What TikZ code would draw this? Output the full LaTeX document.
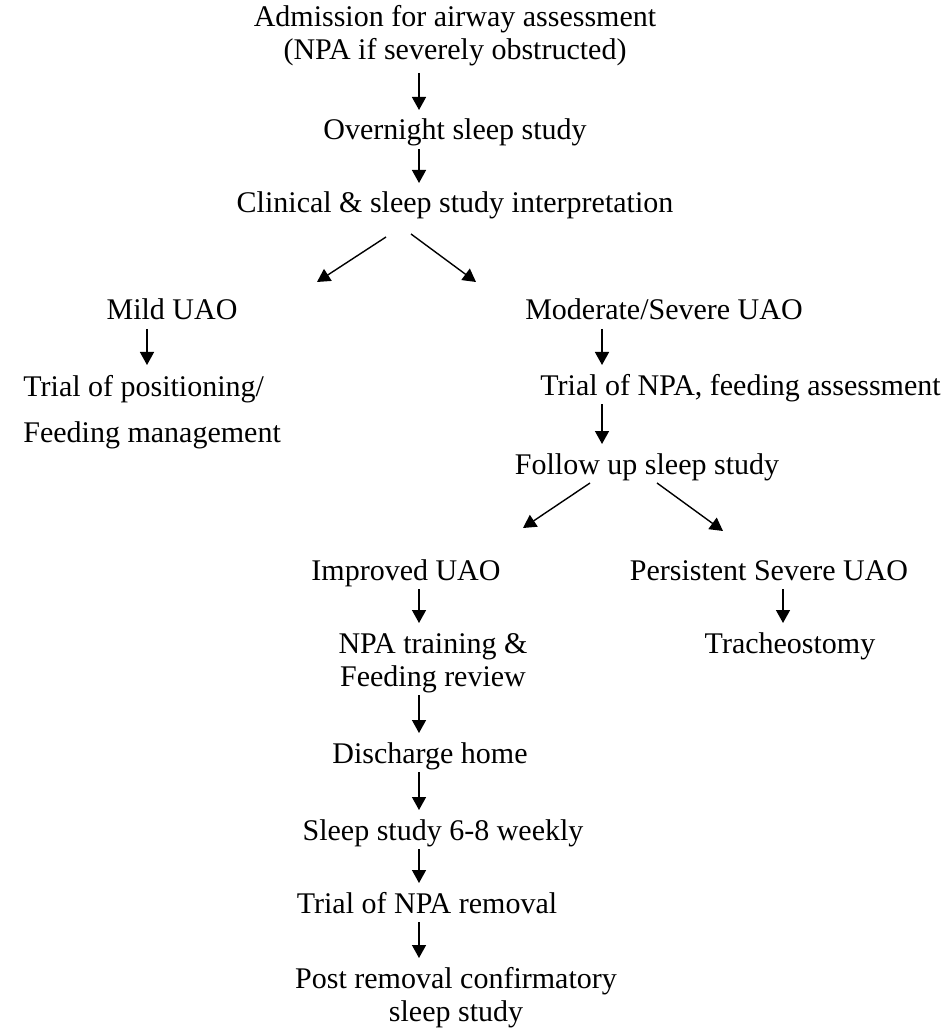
\documentclass[tikz,border=0pt]{standalone}
\usepackage{fontspec}
\setmainfont{Liberation Serif}
\usetikzlibrary{arrows.meta}
\begin{document}
\begin{tikzpicture}[x=0.5pt,y=-0.5pt,
  txt/.style={inner sep=0pt, anchor=base, font=\fontsize{15}{16.5}\selectfont, align=center},
  tip/.style={-{Triangle[width=7pt,length=6.5pt]}, line width=0.7pt},
  arr/.style={tip, shorten <=4.5pt, shorten >=15pt}]
\useasboundingbox (0,0) rectangle (950,1031);
% columns for vertical arrows
\coordinate (k1) at (419,0);
\coordinate (k2) at (147,0);
\coordinate (k3) at (602,0);
\coordinate (k4) at (783,0);
% nodes (base = baseline of the last line)
\node[txt] (adm) at (455,60) {Admission for airway assessment\\(NPA if severely obstructed)};
\node[txt] (ovn) at (455,140) {Overnight sleep study};
\node[txt] (cli) at (455,213) {Clinical \& sleep study interpretation};
\node[txt] (mild) at (172,320) {Mild UAO};
\node[txt, anchor=base west, align=left] (tpos) at (23,442) {Trial of positioning/\\[6.5pt]Feeding management};
\node[txt] (mod) at (664,320) {Moderate/Severe UAO};
\node[txt, anchor=base west] (tnpa) at (540,395) {Trial of NPA, feeding assessment};
\node[txt] (fol) at (647,474) {Follow up sleep study};
\node[txt] (imp) at (406,580) {Improved UAO};
\node[txt] (per) at (769,580) {Persistent Severe UAO};
\node[txt] (npa) at (433,686) {NPA training \&\\Feeding review};
\node[txt] (tra) at (790,653) {Tracheostomy};
\node[txt] (dis) at (430,763) {Discharge home};
\node[txt] (slp) at (443,840) {Sleep study 6-8 weekly};
\node[txt] (rem) at (427,913) {Trial of NPA removal};
\node[txt] (post) at (456,1021) {Post removal confirmatory\\sleep study};
% diagonal arrow ends
\coordinate (d1s) at (386,237); \coordinate (d1e) at (317,282);
\coordinate (d2s) at (411,234); \coordinate (d2e) at (476,282);
\coordinate (d3s) at (590,483); \coordinate (d3e) at (523,528);
\coordinate (d4s) at (657,483); \coordinate (d4e) at (723,531);
% vertical arrows
\draw[arr] ([yshift=-2pt]adm.base -| k1) -- (ovn.base -| k1);
\draw[arr] (ovn.base -| k1) -- (cli.base -| k1);
\draw[arr] (mild.base -| k2) -- ([yshift=23.5pt]tpos.base -| k2);
\draw[arr] (mod.base -| k3) -- (tnpa.base -| k3);
\draw[arr] (tnpa.base -| k3) -- (fol.base -| k3);
\draw[arr] (imp.base -| k1) -- ([yshift=16.5pt]npa.base -| k1);
\draw[arr] (per.base -| k4) -- (tra.base -| k4);
\draw[arr] (npa.base -| k1) -- (dis.base -| k1);
\draw[arr] (dis.base -| k1) -- (slp.base -| k1);
\draw[arr] (slp.base -| k1) -- (rem.base -| k1);
\draw[arr] (rem.base -| k1) -- ([yshift=16.5pt]post.base -| k1);
% diagonal arrows
\draw[tip] (d1s) -- (d1e);
\draw[tip] (d2s) -- (d2e);
\draw[tip] (d3s) -- (d3e);
\draw[tip] (d4s) -- (d4e);
\end{tikzpicture}
\end{document}
